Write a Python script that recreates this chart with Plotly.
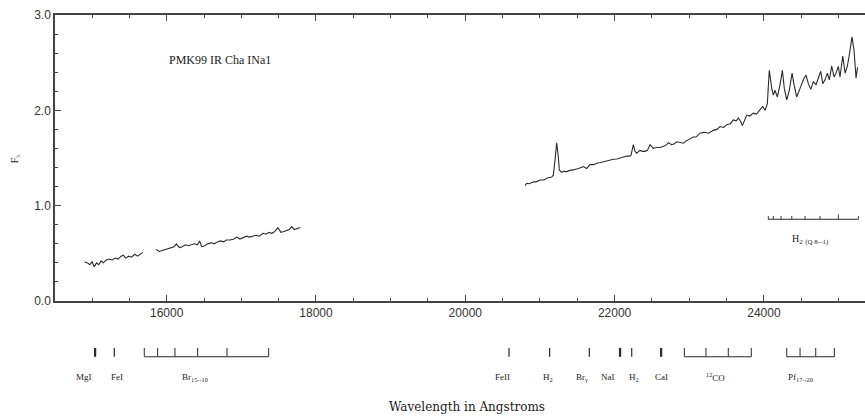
import plotly.graph_objects as go

# ---------------- spectrum data (wavelength in Angstrom, flux F_lambda) ----------------
seg1_wl = [14900, 14940, 14970, 15000, 15030, 15060, 15090, 15120, 15150, 15190, 15230,
           15270, 15310, 15350, 15390, 15420, 15450, 15490, 15530, 15570, 15610, 15650, 15680]
seg1_fl = [0.41, 0.40, 0.38, 0.41, 0.36, 0.40, 0.38, 0.42, 0.40, 0.43, 0.44,
           0.43, 0.45, 0.44, 0.47, 0.48, 0.45, 0.47, 0.46, 0.49, 0.47, 0.49, 0.51]

seg2_wl = [15860, 15900, 15940, 15980, 16020, 16060, 16100, 16130, 16170, 16210, 16250,
           16290, 16330, 16370, 16410, 16440, 16470, 16510, 16550, 16600, 16640, 16680,
           16720, 16760, 16800, 16850, 16900, 16940, 16980, 17020, 17070, 17110, 17150,
           17200, 17240, 17290, 17330, 17370, 17410, 17450, 17490, 17530, 17570, 17610,
           17640, 17675, 17710, 17750, 17790]
seg2_fl = [0.54, 0.52, 0.53, 0.54, 0.55, 0.56, 0.57, 0.60, 0.56, 0.57, 0.59,
           0.58, 0.59, 0.60, 0.59, 0.63, 0.57, 0.58, 0.60, 0.61, 0.60, 0.62,
           0.63, 0.62, 0.64, 0.64, 0.65, 0.67, 0.65, 0.66, 0.68, 0.67, 0.68,
           0.69, 0.68, 0.71, 0.70, 0.72, 0.71, 0.73, 0.77, 0.72, 0.73, 0.74,
           0.75, 0.78, 0.75, 0.76, 0.77]

seg3_wl = [20800, 20823, 20860, 20912, 20950, 21002, 21050, 21100, 21158, 21179, 21202,
           21224, 21246, 21259, 21291, 21320, 21358, 21400, 21447, 21480, 21514, 21550,
           21581, 21626, 21670, 21720, 21760, 21800, 21849, 21880, 21916, 21950, 21983,
           22030, 22072, 22120, 22162, 22200, 22220, 22251, 22273, 22296, 22340, 22375,
           22407, 22440, 22474, 22519, 22560, 22608, 22650, 22698, 22720, 22765, 22800,
           22832, 22880, 22921, 22960, 22988, 23020, 23055, 23090, 23121, 23144, 23200,
           23260, 23322, 23370, 23412, 23460, 23501, 23550, 23590, 23630, 23657, 23690,
           23711, 23740, 23770, 23810, 23858, 23900, 23940, 23984, 24015, 24046, 24059,
           24072, 24105, 24126, 24149, 24180, 24216, 24247, 24273, 24306, 24340, 24377,
           24403, 24439, 24484, 24528, 24564, 24595, 24627, 24662, 24698, 24729, 24761,
           24788, 24819, 24849, 24876, 24908, 24939, 24966, 24997, 25019, 25056, 25087,
           25117, 25154, 25180, 25207, 25234, 25254]
seg3_fl = [1.21, 1.235, 1.23, 1.25, 1.25, 1.27, 1.27, 1.29, 1.30, 1.32, 1.48,
           1.66, 1.51, 1.375, 1.35, 1.36, 1.357, 1.37, 1.375, 1.38, 1.39, 1.40,
           1.41, 1.39, 1.43, 1.43, 1.445, 1.45, 1.46, 1.47, 1.48, 1.48, 1.487,
           1.49, 1.50, 1.51, 1.52, 1.52, 1.53, 1.64, 1.57, 1.55, 1.58, 1.57,
           1.57, 1.58, 1.64, 1.60, 1.61, 1.61, 1.62, 1.64, 1.66, 1.64, 1.65,
           1.67, 1.66, 1.655, 1.68, 1.69, 1.70, 1.72, 1.72, 1.75, 1.76, 1.77,
           1.76, 1.79, 1.80, 1.83, 1.82, 1.85, 1.86, 1.90, 1.89, 1.92, 1.88,
           1.84, 1.90, 1.95, 1.94, 1.97, 1.96, 2.00, 2.04, 2.00, 2.07, 2.25,
           2.42, 2.23, 2.16, 2.21, 2.14, 2.27, 2.42, 2.23, 2.11, 2.21, 2.39,
           2.27, 2.14, 2.23, 2.32, 2.37, 2.28, 2.22, 2.30, 2.27, 2.34, 2.41,
           2.28, 2.32, 2.39, 2.32, 2.465, 2.35, 2.39, 2.46, 2.35, 2.57, 2.39,
           2.46, 2.63, 2.77, 2.63, 2.34, 2.45]

# ---------------- line identifications ----------------
single_marks = [15034, 15048, 15298, 20585, 21130, 21661, 22066, 22080, 22229, 22616, 22630]
bracket_br = [15700, 15879, 16111, 16415, 16808, 17366]
bracket_co = [22934, 23224, 23523, 23831]
bracket_pf = [24306, 24484, 24694, 24943]
bracket_h2q = [24059, 24126, 24229, 24373, 24551, 24752, 24997, 25265]

label_text = ["MgI", "FeI", "Br<sub>15--10</sub>", "FeII", "H<sub>2</sub>", "Br<sub>γ</sub>",
              "NaI", "H<sub>2</sub>", "CaI", "<sup>12</sup>CO", "Pf<sub>17--20</sub>"]
label_wl = [14892, 15330, 16379, 20492, 21108, 21559, 21908, 22260, 22622, 23345, 24484]

x_ticks = [16000, 18000, 20000, 22000, 24000]
y_ticks = [0.0, 1.0, 2.0, 3.0]

LINE = "#2a2a2a"
AX = "#444444"
TXT = "#1a1a1a"

fig = go.Figure()
for wl, fl in [(seg1_wl, seg1_fl), (seg2_wl, seg2_fl), (seg3_wl, seg3_fl)]:
    fig.add_trace(go.Scatter(x=wl, y=fl, mode="lines",
                             line=dict(color=LINE, width=1.1), showlegend=False,
                             hoverinfo="skip"))

shapes = []
Y_TOP = -0.164
Y_BOT = -0.195
for w in single_marks:
    shapes.append(dict(type="line", xref="x", yref="paper", x0=w, x1=w,
                       y0=Y_TOP, y1=Y_BOT, line=dict(color=LINE, width=1.2)))
for br in [bracket_br, bracket_co, bracket_pf]:
    shapes.append(dict(type="line", xref="x", yref="paper", x0=br[0], x1=br[-1],
                       y0=Y_BOT, y1=Y_BOT, line=dict(color=LINE, width=1.2)))
    for w in br:
        shapes.append(dict(type="line", xref="x", yref="paper", x0=w, x1=w,
                           y0=Y_TOP, y1=Y_BOT, line=dict(color=LINE, width=1)))
# H2 Q-branch bracket inside plot
shapes.append(dict(type="line", xref="x", yref="y", x0=bracket_h2q[0], x1=bracket_h2q[-1],
                   y0=0.857, y1=0.857, line=dict(color=LINE, width=1.1)))
for i, w in enumerate(bracket_h2q):
    top = 0.91 if i == 6 else 0.892
    shapes.append(dict(type="line", xref="x", yref="y", x0=w, x1=w,
                       y0=top, y1=0.857, line=dict(color=LINE, width=0.9)))

annotations = []
for t, w in zip(label_text, label_wl):
    annotations.append(dict(text=t, x=w, xref="x", y=-0.266, yref="paper",
                            showarrow=False, xanchor="center", yanchor="middle",
                            font=dict(family="Liberation Serif", size=9, color=TXT)))
annotations.append(dict(text="H<sub>2</sub> <sub>(Q 8--1)</sub>", x=24618, xref="x", y=0.64,
                        yref="y", showarrow=False, xanchor="center", yanchor="middle",
                        font=dict(family="Liberation Serif", size=10, color=TXT)))
annotations.append(dict(text="PMK99 IR Cha INa1", x=0.138, xref="paper", y=0.843,
                        yref="paper", showarrow=False, xanchor="left", yanchor="middle",
                        font=dict(family="Liberation Serif", size=12, color=TXT)))
annotations.append(dict(text="Wavelength in Angstroms", x=0.509, xref="paper",
                        y=-0.371, yref="paper", showarrow=False, xanchor="center",
                        yanchor="middle",
                        font=dict(family="DejaVu Serif", size=12, color=TXT)))
annotations.append(dict(text="F<sub>λ</sub>", x=-0.049, xref="paper", y=0.5, yref="paper",
                        showarrow=False, textangle=-90, xanchor="center", yanchor="middle",
                        font=dict(family="Liberation Serif", size=10, color=TXT)))

fig.update_layout(
    width=865, height=420,
    margin=dict(l=55, r=0, t=15, b=119),
    paper_bgcolor="white", plot_bgcolor="white",
    shapes=shapes, annotations=annotations,
    xaxis=dict(range=[14504, 25354], tickvals=x_ticks, ticktext=[str(v) for v in x_ticks],
               ticks="inside", ticklen=6, tickcolor=AX, tickwidth=1,
               minor=dict(dtick=500, tick0=14000, ticks="inside", ticklen=3, tickcolor=AX),
               showline=True, linecolor=AX, linewidth=1.5, mirror="ticks",
               showgrid=False, zeroline=False,
               tickfont=dict(family="Liberation Sans", size=12, color="#333")),
    yaxis=dict(range=[0, 3], tickvals=y_ticks, ticktext=["%.1f" % v for v in y_ticks],
               ticks="inside", ticklen=6, tickcolor=AX, tickwidth=1,
               minor=dict(dtick=0.2, tick0=0, ticks="inside", ticklen=3, tickcolor=AX),
               showline=True, linecolor=AX, linewidth=1.5, mirror=False,
               showgrid=False, zeroline=False,
               tickfont=dict(family="Liberation Sans", size=12, color="#333")),
)

fig.write_html("out.html")
